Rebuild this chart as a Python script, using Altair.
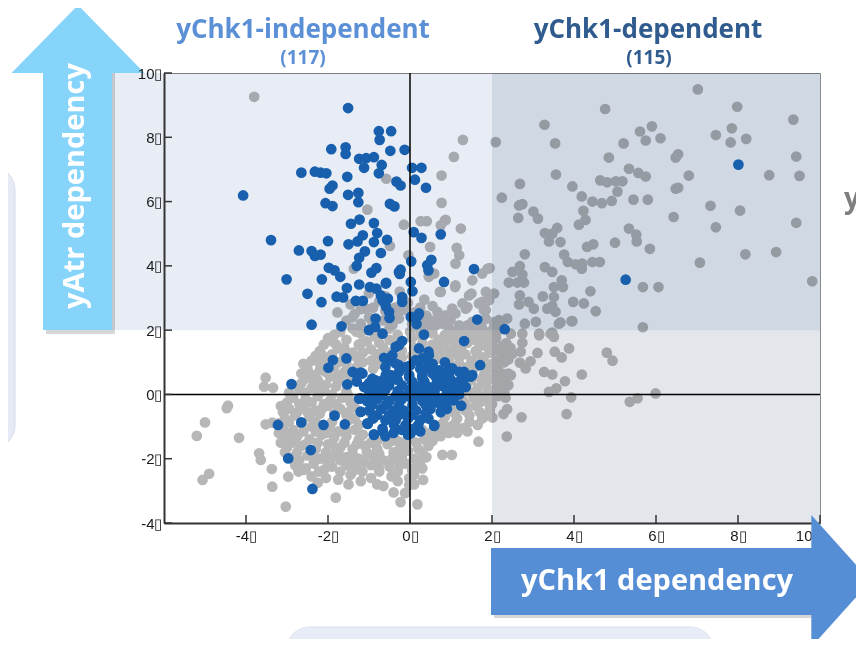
import altair as alt
import pandas as pd

# ---------------- data ----------------
x_domain = [-6, 10]
y_domain = [-4, 10]
x_ticks = [-4, -2, 0, 2, 4, 6, 8, 10]
y_ticks = [-4, -2, 0, 2, 4, 6, 8, 10]
zero_line = [0]

title_left = "yChk1-independent"
count_left = "(117)"
title_right = "yChk1-dependent"
count_right = "(115)"
x_arrow_label = "yChk1 dependency"
y_arrow_label = "yAtr dependency"
side_text = "yAtr"

# shaded quadrants (threshold 2 on both dependencies)
region_x = [-6, 2, 2]
region_x2 = [2, 10, 10]
region_y = [2, 2, -4]
region_y2 = [10, 10, 2]
region_color = ["#e8edf5", "#cfd8e3", "#e3e6eb"]

gray_upper_right = [
    (7.02, 9.49), (4.76, 8.88), (7.98, 8.95), (9.35, 8.55), (3.28, 8.39), (1.29, 7.92), (2.09, 7.85),
    (3.54, 7.81), (5.61, 8.18), (5.90, 8.34), (5.75, 7.90), (6.11, 7.97), (5.21, 7.81), (7.46, 8.07),
    (7.85, 8.28), (7.82, 7.84), (8.20, 7.95), (1.07, 7.39), (4.85, 7.37), (6.54, 7.47), (6.48, 7.37),
    (9.42, 7.40), (5.34, 7.02), (5.57, 6.89), (5.75, 6.78), (6.80, 6.81), (8.76, 6.82), (9.50, 6.80),
    (3.56, 6.84), (0.77, 6.81), (2.68, 6.55), (4.64, 6.66), (4.81, 6.60), (5.02, 6.63), (5.18, 6.63),
    (5.06, 6.31), (3.96, 6.47), (6.48, 6.40), (6.54, 6.43), (2.24, 6.12), (4.19, 6.16), (4.45, 6.00),
    (4.68, 5.95), (4.92, 6.02), (5.45, 6.06), (5.80, 6.06), (0.77, 5.96), (2.66, 5.88), (2.74, 5.92),
    (2.64, 5.49), (3.01, 5.69), (3.12, 5.47), (7.33, 5.87), (8.05, 5.72), (6.43, 5.52), (4.23, 5.71),
    (4.28, 5.43), (4.12, 5.28), (0.87, 5.43), (9.42, 5.34), (1.24, 5.16), (7.46, 5.20), (3.59, 5.18),
    (3.47, 5.00), (3.29, 5.02), (3.39, 4.76), (3.67, 4.74), (5.00, 4.72), (5.34, 5.16), (5.52, 4.97),
    (5.53, 4.76), (5.85, 4.53), (4.32, 4.59), (4.47, 4.67), (1.14, 4.56), (2.80, 4.36), (3.76, 4.35),
    (3.85, 4.12), (4.04, 4.05), (4.19, 3.91), (4.45, 4.12), (4.63, 4.12), (4.20, 4.07), (8.18, 4.36),
    (8.93, 4.43), (7.07, 4.10), (1.94, 3.93), (1.76, 3.76), (1.52, 3.55), (2.68, 3.99), (2.50, 3.81),
    (2.74, 3.73), (2.78, 3.48), (2.41, 3.48), (2.62, 3.48), (3.29, 3.96), (3.47, 3.81), (3.70, 3.55),
    (3.73, 3.34), (3.51, 3.34), (5.68, 3.34), (6.06, 3.34), (9.81, 3.52), (4.40, 3.21), (1.10, 3.34),
    (1.50, 3.14), (1.85, 3.19), (2.05, 3.14), (1.93, 2.93), (1.80, 2.62), (2.68, 3.08), (2.66, 2.80),
    (2.89, 2.88), (3.02, 2.67), (3.24, 3.05), (3.51, 3.03), (3.47, 2.75), (3.35, 2.67), (3.55, 2.57),
    (3.98, 2.88), (4.24, 2.83), (4.53, 2.59), (3.96, 2.28), (3.67, 2.24), (5.68, 2.09), (2.80, 2.20),
    (3.07, 2.26), (3.15, 1.89), (3.47, 1.92), (2.17, 2.31), (2.37, 2.36), (2.05, 2.10), (2.46, 1.89),
]

gray_upper_left = [
    (-3.80, 9.26), (-0.58, 6.71), (-1.04, 5.75), (-0.15, 5.28), (0.26, 5.39), (0.41, 5.39), (0.75, 5.26),
    (0.85, 5.41), (0.49, 4.59), (-0.49, 4.62), (-0.04, 4.33), (-1.37, 3.91), (0.46, 3.70), (0.73, 3.19),
    (1.89, 3.91), (-0.09, 2.62), (-0.27, 2.57), (-0.43, 2.67), (-1.31, 1.95), (0.71, 2.46), (1.03, 2.67),
    (1.36, 2.67), (1.68, 2.83), (1.85, 2.88), (0.63, 2.15), (0.95, 2.05), (1.20, 2.15), (1.52, 2.26),
    (-1.08, 2.67), (-0.92, 2.26), (-0.43, 2.15), (-0.27, 2.36), (1.11, 3.39), (0.75, 3.19), (1.44, 3.08),
    (1.28, 2.83), (1.40, 2.72), (0.67, 2.57), (0.87, 2.46), (1.11, 2.52), (0.99, 2.31), (1.76, 2.88),
    (1.85, 2.62), (1.68, 2.10), (1.85, 1.84), (0.46, 3.66), (0.59, 3.76), (1.11, 4.07), (1.20, 4.33),
    (-1.77, 2.55),
]

gray_lower_right = [
    (4.80, 1.30), (4.94, 1.05), (4.19, 0.62), (3.88, 1.43), (3.70, 1.15), (3.53, 1.33), (3.11, 1.29),
    (2.94, 1.03), (2.68, 0.99), (2.40, 1.09), (2.50, 1.27), (2.70, 1.33), (2.82, 0.81), (3.27, 0.70),
    (3.47, 0.62), (3.78, 0.41), (3.57, 0.19), (3.39, 0.08), (3.93, -0.09), (3.82, -0.61), (2.72, -0.71),
    (2.37, -0.46), (2.28, -0.61), (2.36, -1.31), (1.67, -1.47), (1.76, -0.75), (5.99, 0.03), (5.36, -0.23),
    (5.55, -0.12), (2.25, 0.65), (2.46, 0.60), (2.21, 0.29), (2.40, 0.29), (2.33, -0.10), (3.15, 1.84),
    (3.43, 1.89), (3.51, 1.79), (3.63, 2.20), (3.94, 2.28), (2.74, 1.61), (2.74, 1.89), (2.10, 1.89),
    (2.09, 1.38), (2.01, 0.13), (1.97, -0.07),
]

gray_outliers = [
    (-1.30, 1.95), (-1.20, 1.58), (-1.88, 1.64), (-1.75, 1.43), (-2.14, 1.22), (-2.26, 0.41), (-3.52, 0.52),
    (-3.34, 0.21), (-3.56, 0.24), (-4.44, -0.35), (-4.47, -0.43), (-5.00, -0.87), (-5.20, -1.29),
    (-4.17, -1.35), (-3.52, -0.93), (-3.36, -0.88), (-3.15, -0.36), (-3.68, -1.83), (-3.64, -2.04),
    (-3.37, -2.32), (-4.90, -2.47), (-5.06, -2.66), (-3.36, -2.87), (-3.03, -3.49), (-2.97, -2.56),
    (-2.72, -2.40), (-2.54, -2.30), (-2.22, -2.40), (-2.02, -2.09), (-1.81, -3.21), (-1.16, -2.40),
    (-0.76, -2.30), (-0.12, -3.07), (-0.23, -3.35), (0.18, -3.42), (0.32, -2.66), (0.30, -2.30),
    (0.79, -1.88), (1.02, -1.88), (0.57, -1.37), (2.01, -0.72), (1.76, -0.64), (-0.27, -1.73),
    (-0.43, -1.99), (-0.02, -2.61), (-0.02, -2.82),
]

gray_cluster = [
    (-1.0, 3.15), (-0.6, 3.05), (-0.25, 3.2),
    (-1.45, 2.8), (-0.75, 2.9), (-0.05, 2.85), (0.35, 2.95),
    (-1.35, 2.5), (-0.6, 2.6), (0.1, 2.55), (0.4, 2.45),
    (-1.55, 2.3), (-1.2, 2.2), (-0.65, 2.3), (0.05, 2.2), (0.4, 2.25), (1.85, 2.35), (2.2, 2.2),
    (-1.7, 1.95), (-1.0, 2.0), (-0.7, 1.9), (0.0, 1.95), (0.3, 2.0), (1.3, 1.95), (1.55, 2.0), (1.95, 1.95), (2.25, 2.05),
    (-2.0, 1.75), (-1.55, 1.7), (-1.05, 1.65), (-0.85, 1.8), (-0.5, 1.7), (0.05, 1.75), (0.7, 1.7), (1.0, 1.8),
    (1.55, 1.7), (1.8, 1.65), (2.1, 1.75), (2.35, 1.6),
    (-2.2, 1.35), (-1.6, 1.45), (-1.4, 1.3), (-0.95, 1.4), (-0.65, 1.45), (-0.2, 1.35), (0.1, 1.45), (0.7, 1.4),
    (0.95, 1.35), (1.25, 1.45), (1.6, 1.35), (1.9, 1.45), (2.2, 1.35), (2.45, 1.45),
    (-2.4, 1.05), (-2.0, 1.1), (-1.75, 1.0), (-1.3, 1.15), (-0.95, 1.05), (-0.2, 1.15), (0.05, 1.2), (0.65, 1.1),
    (0.95, 1.05), (1.2, 1.15), (1.5, 1.05), (1.8, 1.15), (2.1, 1.05), (2.35, 1.2),
    (-2.5, 0.8), (-2.2, 0.75), (-1.85, 0.85), (-1.6, 0.7), (-1.3, 0.85), (-0.9, 0.8), (1.2, 0.95), (1.6, 0.85),
    (1.9, 0.8), (2.15, 0.9),
    (-2.55, 0.5), (-2.25, 0.45), (-1.95, 0.55), (-1.75, 0.4), (1.4, 0.35), (1.75, 0.45), (2.0, 0.5), (2.3, 0.45),
    (-2.7, 0.15), (-2.4, 0.2), (-2.1, 0.1), (-1.8, 0.25), (-1.55, 0.1), (1.4, 0.1), (1.65, 0.2), (1.9, 0.15), (2.2, 0.25),
    (-2.85, -0.1), (-2.55, -0.15), (-2.25, -0.05), (-1.95, -0.2), (-1.65, -0.1), (-1.45, -0.25), (1.3, -0.2),
    (1.55, -0.1), (1.85, -0.2), (2.15, -0.05),
    (-2.95, -0.45), (-2.6, -0.4), (-2.3, -0.5), (-2.0, -0.35), (-1.7, -0.45), (-1.35, -0.4), (1.05, -0.4),
    (1.35, -0.5), (1.6, -0.35), (1.95, -0.45),
    (-3.05, -0.75), (-2.8, -0.65), (-2.45, -0.7), (-2.2, -0.6), (-1.35, -0.75), (-0.95, -0.6), (0.85, -0.7),
    (1.15, -0.75), (1.45, -0.65), (1.8, -0.7),
    (-3.1, -1.05), (-2.85, -1.1), (-2.4, -1.0), (-1.95, -1.05), (-1.75, -1.15), (-1.35, -1.1), (-1.25, -0.95),
    (0.3, -1.1), (0.7, -1.15), (1.0, -1.0), (1.3, -1.05),
    (-3.05, -1.35), (-2.75, -1.3), (-2.45, -1.4), (-2.15, -1.25), (-1.85, -1.35), (-1.55, -1.3), (-1.25, -1.4),
    (-0.95, -1.5), (-0.6, -1.35), (-0.3, -1.45), (0.0, -1.35), (0.35, -1.4), (0.75, -1.3), (0.95, -1.2),
    (-3.0, -1.65), (-2.65, -1.6), (-2.3, -1.7), (-2.0, -1.55), (-1.7, -1.65), (-1.4, -1.7), (-1.1, -1.6),
    (-0.8, -1.7), (-0.55, -1.55), (-0.1, -1.6), (0.2, -1.7), (0.45, -1.6),
    (-2.85, -1.95), (-2.5, -1.9), (-2.2, -2.0), (-1.85, -1.85), (-1.55, -1.95), (-1.25, -2.0), (-0.9, -1.9),
    (-0.65, -2.05), (-0.2, -1.95), (0.1, -2.0), (0.4, -1.95),
    (-2.8, -2.2), (-2.35, -2.15), (-1.9, -2.25), (-1.55, -2.2), (-1.3, -2.3), (-0.95, -2.2), (-0.5, -2.25),
    (-0.25, -2.2), (0.15, -2.25),
    (-2.4, -2.55), (-2.05, -2.6), (-1.45, -2.5), (-0.95, -2.6), (-0.45, -2.55), (0.1, -2.5),
    (-1.5, -2.8), (-0.65, -2.85), (0.1, -2.8), (-0.4, -3.05),
]

gray_cluster_fill = [
    (-1.2, 2.65), (-0.9, 2.7), (-0.35, 2.7), (0.25, 2.7), (0.55, 2.75),
    (-1.4, 2.4), (-1.0, 2.4), (-0.35, 2.45), (0.25, 2.35), (0.55, 2.3),
    (-1.4, 2.05), (-0.5, 2.05), (0.15, 2.1), (0.5, 2.1), (0.8, 2.2), (1.1, 1.95), (1.4, 2.15), (1.75, 2.1), (2.05, 2.25),
    (-1.85, 1.85), (-1.2, 1.9), (-0.3, 1.85), (0.25, 1.85), (0.55, 1.9), (0.85, 1.85), (1.2, 1.8), (1.45, 1.85),
    (1.7, 1.85), (2.0, 1.85),
    (-2.1, 1.55), (-1.8, 1.55), (-1.25, 1.55), (-0.75, 1.6), (-0.35, 1.6), (0.3, 1.6), (0.55, 1.55), (0.85, 1.6),
    (1.1, 1.55), (1.4, 1.6), (1.7, 1.5), (2.0, 1.6), (2.25, 1.5),
    (-2.3, 1.2), (-1.9, 1.25), (-1.6, 1.2), (-1.15, 1.3), (-0.8, 1.25), (-0.45, 1.3), (0.3, 1.3), (0.5, 1.25),
    (0.85, 1.2), (1.1, 1.3), (1.35, 1.25), (1.65, 1.25), (1.95, 1.3), (2.25, 1.25),
    (-2.6, 0.95), (-2.2, 0.95), (-1.55, 0.95), (-1.15, 1.0), (-0.75, 0.95), (1.4, 0.85), (1.75, 1.0), (2.0, 0.95), (2.3, 1.0),
    (-2.65, 0.65), (-2.35, 0.6), (-2.05, 0.7), (-1.75, 0.6), (-1.45, 0.55), (1.5, 0.7), (1.8, 0.6), (2.1, 0.7), (2.4, 0.65),
    (-2.65, 0.35), (-2.35, 0.35), (-2.05, 0.3), (-1.7, 0.55), (-1.3, 0.45), (1.5, 0.45), (1.85, 0.35), (2.1, 0.4),
    (-2.95, 0.05), (-2.55, 0.05), (-2.25, 0.15), (-1.9, 0.0), (-1.5, -0.05), (1.5, 0.05), (1.75, -0.05), (2.05, 0.1), (2.3, 0.05),
    (-3.0, -0.25), (-2.7, -0.3), (-2.4, -0.25), (-2.1, -0.3), (-1.8, -0.3), (-1.5, -0.55), (1.35, -0.3), (1.7, -0.25), (2.0, -0.3),
    (-3.1, -0.55), (-2.75, -0.55), (-2.5, -0.55), (-2.15, -0.45), (-1.85, -0.6), (-1.55, -0.65), (1.1, -0.6),
    (1.4, -0.45), (1.7, -0.55), (1.95, -0.6),
    (-3.2, -0.9), (-2.95, -0.85), (-2.65, -0.9), (-2.3, -0.85), (-1.9, -0.85), (-1.5, -0.8), (0.8, -0.9),
    (1.1, -0.9), (1.45, -0.85), (1.65, -0.95),
    (-3.2, -1.2), (-2.95, -1.25), (-2.6, -1.15), (-2.3, -1.15), (-2.05, -1.2), (-1.55, -1.15), (-1.15, -1.25),
    (0.45, -1.2), (0.8, -1.05), (1.15, -1.2), (1.4, -1.15),
    (-3.15, -1.5), (-2.85, -1.5), (-2.55, -1.55), (-2.25, -1.5), (-1.9, -1.55), (-1.6, -1.5), (-1.3, -1.55),
    (-0.8, -1.45), (-0.45, -1.45), (-0.15, -1.5), (0.15, -1.5), (0.55, -1.45),
    (-3.05, -1.8), (-2.75, -1.8), (-2.4, -1.75), (-2.05, -1.8), (-1.75, -1.8), (-1.4, -1.85), (-1.05, -1.8),
    (-0.75, -1.85), (-0.4, -1.8), (-0.05, -1.75), (0.3, -1.8),
    (-2.7, -2.05), (-2.35, -2.0), (-1.95, -2.05), (-1.7, -2.05), (-1.4, -2.1), (-1.1, -2.1), (-0.8, -2.05),
    (-0.45, -2.05), (-0.1, -2.15), (0.25, -2.1),
    (-2.6, -2.35), (-2.1, -2.35), (-1.7, -2.4), (-1.4, -2.4), (-0.75, -2.4), (-0.3, -2.4), (0.05, -2.35),
    (-2.25, -2.75), (-1.75, -2.65), (-1.2, -2.7), (-0.8, -2.8), (-0.3, -2.7),
]

blue_upper = [
    (-1.51, 8.91), (-0.76, 8.19), (-0.46, 8.19), (-0.74, 7.92), (-1.92, 7.63), (-1.57, 7.69), (-1.57, 7.48),
    (-0.48, 7.58), (-0.13, 7.61), (-1.24, 7.33), (-1.07, 7.35), (-0.88, 7.38), (-1.12, 7.05), (-0.69, 7.14),
    (-0.76, 6.88), (-2.65, 6.90), (-2.32, 6.93), (-2.18, 6.90), (-2.04, 6.88), (-1.53, 6.77), (-0.33, 6.62),
    (-0.23, 6.50), (0.05, 7.05), (0.28, 7.05), (0.12, 6.68), (0.39, 6.43), (-1.89, 6.50), (-1.96, 6.40),
    (-4.07, 6.19), (-1.51, 6.21), (-1.26, 6.27), (-1.26, 5.98), (-2.06, 5.95), (-1.89, 5.86), (-0.49, 5.93),
    (-0.38, 5.85), (-1.44, 5.31), (-1.23, 5.44), (-0.88, 5.33), (-0.80, 5.02), (-0.56, 4.81), (-1.15, 4.95),
    (-1.28, 4.76), (-1.50, 4.67), (-0.88, 4.74), (-2.00, 4.77), (-3.39, 4.80), (0.09, 5.05), (0.28, 4.87),
    (0.75, 4.98), (-0.71, 4.40), (-1.10, 4.45), (-1.24, 4.25), (-2.71, 4.48), (-2.40, 4.46), (-2.32, 4.31),
    (-2.18, 4.35), (-1.30, 4.00), (-1.98, 3.94), (-1.84, 3.86), (-0.82, 3.93), (-0.94, 3.79), (-0.23, 3.88),
    (-0.25, 3.75), (0.03, 4.14), (0.52, 4.19), (0.42, 4.02), (0.45, 3.86), (1.56, 3.90), (-3.01, 3.58),
    (-2.15, 3.58), (-1.70, 3.66), (-1.24, 3.42), (-0.58, 3.47), (-0.98, 3.34), (-0.82, 3.29), (-1.54, 3.31),
    (0.02, 3.50), (0.83, 3.50), (0.06, 3.21), (-2.50, 3.13), (-2.16, 2.87), (-1.79, 3.04), (-1.63, 3.02),
    (-1.32, 2.91), (-1.15, 2.91), (-0.71, 3.08), (-0.54, 2.98), (-0.59, 2.74), (-0.19, 3.03), (-0.19, 2.88),
    (-0.50, 2.38), (-0.84, 2.36), (0.20, 2.46), (0.16, 2.19), (-2.40, 2.17), (-1.67, 2.12), (-1.00, 2.00),
    (-0.85, 2.10), (1.64, 2.33), (0.34, 1.86), (-0.27, 3.81), (-0.59, 3.45), (-0.67, 2.93), (-0.51, 2.57),
    (0.02, 2.41), (0.22, 2.52), (8.01, 7.15), (5.26, 3.57),
]

blue_lower = [
    (2.31, 2.03), (-0.67, 1.89), (-0.19, 1.66), (-0.35, 1.48), (1.32, 1.66), (0.45, 1.33), (-0.63, 1.14),
    (-0.55, 1.03), (-1.55, 1.12), (-1.88, 1.07), (-1.99, 0.83), (1.71, 0.91), (0.22, 1.02), (-2.89, 0.32),
    (-1.53, 0.31), (-1.32, 0.65), (-1.16, 0.65), (-1.04, 0.27), (-0.84, 0.44), (-0.27, 0.91), (-0.47, 0.60),
    (0.46, 0.81), (0.75, 0.65), (1.02, 0.79), (1.28, 0.65), (1.48, 0.55), (1.20, 0.19), (0.87, 0.34),
    (0.30, 0.50), (-0.02, 0.60), (0.71, -0.12), (1.06, -0.18), (-1.20, -0.12), (-1.20, -0.54), (-1.84, -0.66),
    (-2.11, -0.95), (-1.59, -0.93), (-2.65, -0.87), (-3.22, -0.95), (-1.03, -0.92), (-0.88, -1.24),
    (-0.66, -1.16), (0.02, -1.21), (0.59, -0.98), (-2.42, -1.73), (-2.97, -1.99), (-2.38, -2.94),
    (-0.27, 1.53), (-0.43, 1.22), (0.22, 1.43), (0.46, 1.22), (0.30, 1.12),
]

blue_core = [
    (-0.35, 0.96), (0.14, 1.07), (0.46, 0.91), (0.71, 0.75), (1.03, 0.81), (1.32, 0.70), (1.52, 0.60),
    (-1.40, 0.70), (-1.20, 0.68), (-0.92, 0.49), (-0.59, 0.60), (-0.27, 0.70), (-0.02, 0.54), (0.30, 0.60),
    (0.63, 0.54), (0.87, 0.44), (1.19, 0.39),
    (-1.12, 0.23), (-0.84, 0.23), (-0.51, 0.28), (-0.19, 0.28), (0.14, 0.26), (0.46, 0.23), (0.79, 0.26),
    (1.11, 0.18), (1.36, 0.23),
    (-1.24, -0.13), (-0.96, -0.03), (-0.67, -0.03), (-0.35, -0.05), (-0.11, -0.03), (0.18, -0.03), (0.46, -0.08),
    (0.79, -0.13), (1.03, -0.18),
    (-1.20, -0.54), (-0.92, -0.33), (-0.59, -0.33), (-0.27, -0.33), (0.06, -0.33), (0.38, -0.33), (0.71, -0.28),
    (-1.04, -0.90), (-0.80, -0.64), (-0.51, -0.64), (-0.27, -0.64), (0.06, -0.64), (0.38, -0.59),
    (-0.88, -1.26), (-0.67, -1.06), (-0.39, -0.95), (-0.11, -0.95), (0.10, -1.06), (0.59, -0.95),
    (-0.75, 0.05), (-0.45, 0.45), (0.0, 0.15), (0.3, -0.2), (0.6, 0.1), (-0.15, -0.5), (0.25, -0.8),
    (-0.6, -0.8), (0.95, 0.6), (-0.1, 0.85), (0.25, 0.8), (-0.75, 0.35), (0.55, 0.65), (0.9, -0.45),
    (-0.4, -1.2), (-0.05, -1.25), (1.25, -0.35), (1.2, 0.0), (0.95, 0.81), (1.20, 0.70), (0.79, 0.39),
    (1.03, 0.19), (1.28, 0.24),
    (-0.6, 0.85), (0.0, 0.9), (0.55, 0.95), (0.85, 1.0),
    (-1.3, 0.4), (-1.0, 0.35), (-0.65, 0.45), (-0.3, 0.45), (0.05, 0.4), (0.35, 0.4), (0.65, 0.35), (1.0, 0.45), (1.3, 0.45),
    (-1.0, 0.1), (-0.6, 0.15), (-0.3, 0.1), (0.3, 0.1), (0.9, 0.05), (1.15, 0.05),
    (-1.05, -0.2), (-0.8, -0.15), (-0.5, -0.2), (-0.2, -0.15), (0.05, -0.15), (0.35, -0.05), (0.6, -0.2), (0.85, -0.3),
    (-1.0, -0.5), (-0.7, -0.45), (-0.4, -0.5), (0.15, -0.5), (0.5, -0.45), (0.75, -0.55),
    (-0.9, -0.75), (-0.35, -0.8), (-0.05, -0.75), (0.2, -0.95), (0.45, -0.75),
    (-0.6, -1.3), (-0.2, -1.1), (0.25, -1.15),
]

# ---------------- tables ----------------
def to_df(*groups):
    rows = [p for g in groups for p in g]
    return pd.DataFrame({"x": [p[0] for p in rows], "y": [p[1] for p in rows]})

gray_df = to_df(gray_cluster, gray_cluster_fill, gray_outliers, gray_lower_right, gray_upper_left, gray_upper_right)
blue_df = to_df(blue_upper, blue_lower, blue_core)
region_df = pd.DataFrame({"x": region_x, "x2": region_x2, "y": region_y, "y2": region_y2, "c": region_color})
xtick_df = pd.DataFrame({"x": x_ticks})
ytick_df = pd.DataFrame({"y": y_ticks})
zx_df = pd.DataFrame({"x": zero_line})
zy_df = pd.DataFrame({"y": zero_line})
one = pd.DataFrame({"k": [0]})

W, H = 656, 450
FONT = "Open Sans"
LABEL_FONT = "Liberation Sans"
PT = 115  # point area

lab_expr = "(datum.value < 0 ? '-' : '') + abs(datum.value) + '\u25af'"
xaxis = alt.Axis(values=x_ticks, labelExpr=lab_expr, ticks=False, grid=False, title=None,
                 domainColor="#333333", domainWidth=2, labelFont=LABEL_FONT, labelFontSize=15,
                 labelColor="#1a1a1a", labelPadding=5)
yaxis = alt.Axis(values=y_ticks, labelExpr=lab_expr, ticks=False, grid=False, title=None,
                 domainColor="#333333", domainWidth=2, labelFont=LABEL_FONT, labelFontSize=15,
                 labelColor="#1a1a1a", labelPadding=2, zindex=1)
xs = alt.Scale(domain=x_domain, nice=False, zero=False)
ys = alt.Scale(domain=y_domain, nice=False, zero=False)
X = alt.X("x:Q", scale=xs, axis=xaxis)
Y = alt.Y("y:Q", scale=ys, axis=yaxis)

# ---------------- slide decorations (pixel positions relative to plot) ----------------
slide_left = alt.Chart(one).mark_rect(color="#e5eaf4", stroke="#d6dcea", cornerRadius=26).encode(
    x=alt.value(-200), x2=alt.value(-149), y=alt.value(92), y2=alt.value(377))
slide_bottom = alt.Chart(one).mark_rect(color="#e7ecf7", stroke="#dbe1ee", cornerRadius=24).encode(
    x=alt.value(122), x2=alt.value(550), y=alt.value(554), y2=alt.value(640))
strip = alt.Chart(one).mark_rect(color="#e8edf5").encode(
    x=alt.value(-53), x2=alt.value(0), y=alt.value(0), y2=alt.value(257))

gray = alt.Chart(gray_df).mark_circle(size=PT, color="#b7b7b7", opacity=1).encode(x=X, y=Y)
regions = alt.Chart(region_df).mark_rect(blend="multiply").encode(
    x=X, x2="x2:Q", y=Y, y2="y2:Q", color=alt.Color("c:N", scale=None))
blue = alt.Chart(blue_df).mark_circle(size=PT, color="#1860ad", opacity=1).encode(x=X, y=Y)

zero_v = alt.Chart(zx_df).mark_rule(color="black", strokeWidth=1.5).encode(x=X)
zero_h = alt.Chart(zy_df).mark_rule(color="black", strokeWidth=1.5).encode(y=Y)
ticks_x = alt.Chart(xtick_df).mark_rule(color="#333333", strokeWidth=1.5).encode(
    x=X, y=alt.value(H), y2=alt.value(H - 8))
ticks_y = alt.Chart(ytick_df).mark_rule(color="#333333", strokeWidth=1.5).encode(
    y=Y, x=alt.value(0), x2=alt.value(8))

# yAtr arrow (vertical)
ya_shadow = alt.Chart(one).mark_rect(color="#000000", opacity=0.16).encode(
    x=alt.value(-118), x2=alt.value(-49), y=alt.value(0), y2=alt.value(261))
ya_body = alt.Chart(one).mark_rect(color="#87d4fb").encode(
    x=alt.value(-121), x2=alt.value(-52), y=alt.value(-2), y2=alt.value(257))
ya_head = alt.Chart(one).mark_point(shape="M-1,0.51L0,-0.51L1,0.51Z", size=17689, filled=True,
                                   color="#87d4fb", opacity=1, strokeWidth=0).encode(
    x=alt.value(-86), y=alt.value(-34))
ya_text = alt.Chart(one).mark_text(text=y_arrow_label, font=FONT, fontSize=29, fontWeight="bold",
                                   color="white", angle=270, align="center", baseline="middle").encode(
    x=alt.value(-89), y=alt.value(113))

# yChk1 arrow (horizontal)
xa_shadow = alt.Chart(one).mark_rect(color="#000000", opacity=0.16).encode(
    x=alt.value(330), x2=alt.value(650), y=alt.value(478), y2=alt.value(545))
xa_body = alt.Chart(one).mark_rect(color="#568ed6").encode(
    x=alt.value(327), x2=alt.value(660), y=alt.value(475), y2=alt.value(542))
xa_head = alt.Chart(one).mark_point(shape="M-0.45,-1L0.45,0L-0.45,1Z", size=17424, filled=True,
                                   color="#568ed6", opacity=1, strokeWidth=0).encode(
    x=alt.value(677), y=alt.value(508))
xa_text = alt.Chart(one).mark_text(text=x_arrow_label, font=FONT, fontSize=29, fontWeight="bold",
                                   color="white", align="center", baseline="middle").encode(
    x=alt.value(493), y=alt.value(508))

# titles
t1 = alt.Chart(one).mark_text(text=title_left, font=FONT, fontSize=26, fontWeight="bold",
                              color="#5b8fd6", align="center", baseline="middle").encode(
    x=alt.value(139), y=alt.value(-43))
t1c = alt.Chart(one).mark_text(text=count_left, font=FONT, fontSize=19, fontWeight="bold",
                               color="#5b8fd6", align="center", baseline="middle").encode(
    x=alt.value(139), y=alt.value(-15))
t2 = alt.Chart(one).mark_text(text=title_right, font=FONT, fontSize=26, fontWeight="bold",
                              color="#2f5b8e", align="center", baseline="middle").encode(
    x=alt.value(484), y=alt.value(-43))
t2c = alt.Chart(one).mark_text(text=count_right, font=FONT, fontSize=19, fontWeight="bold",
                               color="#2f5b8e", align="center", baseline="middle").encode(
    x=alt.value(485), y=alt.value(-15))
side = alt.Chart(one).mark_text(text=side_text, font=FONT, fontSize=28, fontWeight="bold",
                                color="#7f7f7f", align="left", baseline="middle").encode(
    x=alt.value(680), y=alt.value(127))

chart = alt.layer(
    slide_left, slide_bottom, strip, gray, regions, blue, zero_v, zero_h, ticks_x, ticks_y,
    ya_shadow, ya_body, ya_head, ya_text, xa_shadow, xa_body, xa_head, xa_text,
    t1, t1c, t2, t2c, side,
).properties(
    width=W, height=H,
    padding={"left": 156, "top": 65, "right": 36, "bottom": 116},
    autosize=alt.AutoSizeParams(type="none"),
).configure(background="white").configure_view(stroke="#8a8a8a", strokeWidth=1)

chart.save("out.html", embed_options={"renderer": "svg", "actions": False})
